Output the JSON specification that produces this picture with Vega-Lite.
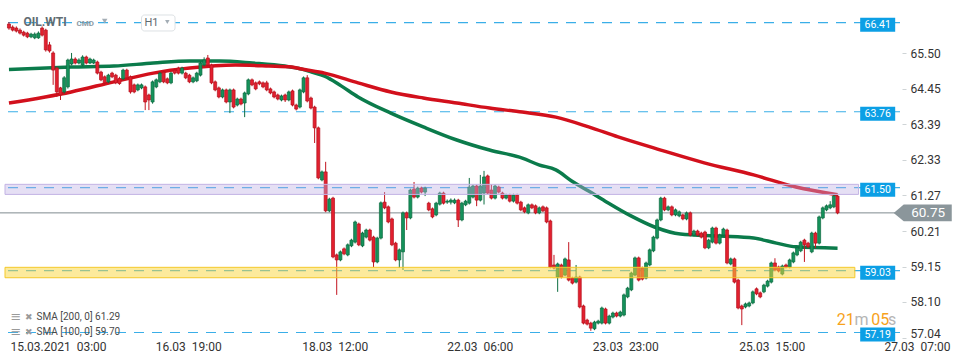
{
"$schema": "https://vega.github.io/schema/vega-lite/v6.json",
"width": 900, "height": 340,
"autosize": {"type": "none"},
"padding": {"left": 0, "top": 0, "right": 70, "bottom": 24},
"background": "white",
"config": {"view": {"stroke": null}, "font": "Roboto"},
"datasets": {
"levels": [{"p":66.41},{"p":63.76},{"p":61.50},{"p":59.03},{"p":57.19}],
"sma": [
{"s":"100","i":0,"v":65.02},{"s":"100","i":16.9,"v":65.09},{"s":"100","i":28.5,"v":65.12},{"s":"100","i":39.2,"v":65.21},{"s":"100","i":49.1,"v":65.27},{"s":"100","i":57.2,"v":65.27},{"s":"100","i":66.1,"v":65.21},{"s":"100","i":74.9,"v":65.12},{"s":"100","i":79.5,"v":65.03},{"s":"100","i":82.2,"v":64.94},{"s":"100","i":85.7,"v":64.82},{"s":"100","i":90.2,"v":64.53},{"s":"100","i":94.8,"v":64.20},{"s":"100","i":103.7,"v":63.72},{"s":"100","i":112.5,"v":63.31},{"s":"100","i":121.6,"v":62.92},{"s":"100","i":130.5,"v":62.62},{"s":"100","i":139.4,"v":62.38},{"s":"100","i":143.9,"v":62.18},{"s":"100","i":148.5,"v":62.03},{"s":"100","i":152.8,"v":61.70},{"s":"100","i":157.4,"v":61.40},{"s":"100","i":161.9,"v":61.10},{"s":"100","i":168.9,"v":60.66},{"s":"100","i":175.3,"v":60.33},{"s":"100","i":182.3,"v":60.12},{"s":"100","i":193.1,"v":60.06},{"s":"100","i":202.2,"v":60.00},{"s":"100","i":208.4,"v":59.85},{"s":"100","i":213.7,"v":59.74},{"s":"100","i":225,"v":59.70},
{"s":"200","i":0,"v":64.02},{"s":"200","i":16.9,"v":64.35},{"s":"200","i":28.5,"v":64.65},{"s":"200","i":39.2,"v":64.91},{"s":"200","i":49.1,"v":65.06},{"s":"200","i":61.5,"v":65.15},{"s":"200","i":70.6,"v":65.12},{"s":"200","i":76.8,"v":65.09},{"s":"200","i":79.5,"v":65.03},{"s":"200","i":85.7,"v":64.91},{"s":"200","i":94.8,"v":64.62},{"s":"200","i":103.7,"v":64.35},{"s":"200","i":112.5,"v":64.17},{"s":"200","i":121.6,"v":64.02},{"s":"200","i":130.5,"v":63.87},{"s":"200","i":139.4,"v":63.75},{"s":"200","i":148.5,"v":63.60},{"s":"200","i":157.4,"v":63.31},{"s":"200","i":165.4,"v":63.01},{"s":"200","i":177,"v":62.62},{"s":"200","i":188.8,"v":62.24},{"s":"200","i":202.2,"v":61.88},{"s":"200","i":213.7,"v":61.52},{"s":"200","i":225,"v":61.29}
],
"candles": [
{"i":0,"o":66.37,"h":66.43,"l":66.20,"c":66.25},{"i":1,"o":66.28,"h":66.33,"l":66.15,"c":66.19},{"i":2,"o":66.25,"h":66.30,"l":66.12,"c":66.16},{"i":3,"o":66.19,"h":66.24,"l":66.06,"c":66.10},{"i":4,"o":66.13,"h":66.17,"l":66.00,"c":66.04},{"i":5,"o":66.10,"h":66.14,"l":65.95,"c":65.99},{"i":6,"o":65.99,"h":66.11,"l":65.95,"c":66.07},{"i":7,"o":65.96,"h":66.12,"l":65.92,"c":66.07},{"i":8,"o":65.96,"h":66.15,"l":65.93,"c":66.10},{"i":9,"o":66.25,"h":66.30,"l":66.00,"c":66.04},
{"i":10,"o":66.19,"h":66.23,"l":65.55,"c":65.60},{"i":11,"o":65.75,"h":65.84,"l":65.52,"c":65.57},{"i":12,"o":65.51,"h":65.56,"l":64.56,"c":65.00},{"i":13,"o":65.06,"h":65.10,"l":64.20,"c":64.35},{"i":14,"o":64.47,"h":64.50,"l":64.11,"c":64.26},{"i":15,"o":64.35,"h":64.82,"l":64.30,"c":64.77},{"i":16,"o":64.50,"h":65.34,"l":64.45,"c":65.30},{"i":17,"o":65.18,"h":65.51,"l":65.14,"c":65.33},{"i":18,"o":65.33,"h":65.38,"l":65.17,"c":65.21},{"i":19,"o":65.21,"h":65.35,"l":65.17,"c":65.30},
{"i":20,"o":65.15,"h":65.44,"l":65.11,"c":65.39},{"i":21,"o":65.39,"h":65.43,"l":65.17,"c":65.21},{"i":22,"o":65.21,"h":65.37,"l":65.18,"c":65.33},{"i":23,"o":65.21,"h":65.34,"l":65.18,"c":65.30},{"i":24,"o":65.24,"h":65.28,"l":64.87,"c":64.91},{"i":25,"o":64.94,"h":64.98,"l":64.67,"c":64.71},{"i":26,"o":64.80,"h":64.84,"l":64.58,"c":64.62},{"i":27,"o":64.65,"h":64.89,"l":64.61,"c":64.85},{"i":28,"o":64.91,"h":64.95,"l":64.76,"c":64.80},{"i":29,"o":64.85,"h":64.89,"l":64.58,"c":64.62},
{"i":30,"o":64.75,"h":64.80,"l":64.56,"c":64.60},{"i":31,"o":64.74,"h":65.04,"l":64.70,"c":65.00},{"i":32,"o":65.00,"h":65.04,"l":64.73,"c":64.77},{"i":33,"o":64.80,"h":64.84,"l":64.30,"c":64.35},{"i":34,"o":64.56,"h":64.60,"l":64.31,"c":64.35},{"i":35,"o":64.41,"h":64.60,"l":64.37,"c":64.56},{"i":36,"o":64.47,"h":64.60,"l":64.43,"c":64.56},{"i":37,"o":64.50,"h":64.54,"l":63.81,"c":64.05},{"i":38,"o":64.26,"h":64.30,"l":63.81,"c":64.11},{"i":39,"o":64.05,"h":64.69,"l":64.00,"c":64.65},
{"i":40,"o":64.50,"h":64.75,"l":64.46,"c":64.71},{"i":41,"o":64.65,"h":64.95,"l":64.61,"c":64.91},{"i":42,"o":64.94,"h":64.98,"l":64.61,"c":64.65},{"i":43,"o":64.74,"h":64.78,"l":64.58,"c":64.62},{"i":44,"o":64.62,"h":64.95,"l":64.58,"c":64.91},{"i":45,"o":65.00,"h":65.04,"l":64.87,"c":64.91},{"i":46,"o":65.06,"h":65.10,"l":64.87,"c":64.91},{"i":47,"o":64.91,"h":65.10,"l":64.87,"c":65.06},{"i":48,"o":64.91,"h":64.95,"l":64.73,"c":64.77},{"i":49,"o":64.85,"h":64.89,"l":64.61,"c":64.65},
{"i":50,"o":64.65,"h":64.81,"l":64.61,"c":64.77},{"i":51,"o":64.68,"h":64.95,"l":64.64,"c":64.91},{"i":52,"o":64.85,"h":65.25,"l":64.81,"c":65.21},{"i":53,"o":65.15,"h":65.38,"l":65.11,"c":65.30},{"i":54,"o":65.36,"h":65.45,"l":65.11,"c":65.15},{"i":55,"o":65.15,"h":65.19,"l":64.58,"c":64.62},{"i":56,"o":64.65,"h":64.69,"l":64.37,"c":64.41},{"i":57,"o":64.47,"h":64.51,"l":64.16,"c":64.20},{"i":58,"o":64.20,"h":64.45,"l":64.16,"c":64.41},{"i":59,"o":64.41,"h":64.45,"l":64.01,"c":64.05},
{"i":60,"o":64.05,"h":64.45,"l":63.72,"c":64.41},{"i":61,"o":64.41,"h":64.45,"l":63.86,"c":63.90},{"i":62,"o":63.96,"h":64.18,"l":63.92,"c":64.14},{"i":63,"o":64.14,"h":64.18,"l":63.95,"c":63.99},{"i":64,"o":64.02,"h":64.36,"l":63.60,"c":64.32},{"i":65,"o":64.29,"h":64.75,"l":64.25,"c":64.71},{"i":66,"o":64.71,"h":64.75,"l":64.52,"c":64.56},{"i":67,"o":64.62,"h":64.66,"l":64.40,"c":64.44},{"i":68,"o":64.65,"h":64.69,"l":64.55,"c":64.59},{"i":69,"o":64.62,"h":64.66,"l":64.46,"c":64.50},
{"i":70,"o":64.62,"h":64.68,"l":64.37,"c":64.41},{"i":71,"o":64.44,"h":64.48,"l":64.28,"c":64.32},{"i":72,"o":64.35,"h":64.39,"l":64.16,"c":64.20},{"i":73,"o":64.26,"h":64.30,"l":64.10,"c":64.14},{"i":74,"o":64.11,"h":64.27,"l":64.07,"c":64.23},{"i":75,"o":64.26,"h":64.30,"l":64.05,"c":64.11},{"i":76,"o":64.11,"h":64.39,"l":64.07,"c":64.35},{"i":77,"o":64.38,"h":64.42,"l":63.92,"c":63.96},{"i":78,"o":63.96,"h":64.00,"l":63.80,"c":63.84},{"i":79,"o":63.90,"h":64.45,"l":63.86,"c":64.41},
{"i":80,"o":64.35,"h":64.81,"l":64.31,"c":64.77},{"i":81,"o":64.77,"h":64.85,"l":64.04,"c":64.08},{"i":82,"o":64.17,"h":64.21,"l":63.83,"c":63.87},{"i":83,"o":63.90,"h":63.94,"l":62.83,"c":63.28},{"i":84,"o":63.28,"h":63.32,"l":61.75,"c":61.79},{"i":85,"o":61.73,"h":62.01,"l":61.69,"c":61.97},{"i":86,"o":61.97,"h":62.27,"l":60.77,"c":60.81},{"i":87,"o":60.81,"h":61.20,"l":60.77,"c":61.16},{"i":88,"o":61.19,"h":61.23,"l":59.40,"c":59.44},{"i":89,"o":59.50,"h":59.54,"l":58.31,"c":59.35},
{"i":90,"o":59.35,"h":59.63,"l":59.31,"c":59.59},{"i":91,"o":59.68,"h":59.72,"l":59.49,"c":59.53},{"i":92,"o":59.50,"h":59.84,"l":59.46,"c":59.80},{"i":93,"o":59.77,"h":59.98,"l":59.73,"c":59.94},{"i":94,"o":59.88,"h":60.52,"l":59.84,"c":60.48},{"i":95,"o":60.42,"h":60.46,"l":59.76,"c":59.80},{"i":96,"o":59.77,"h":60.19,"l":59.73,"c":60.15},{"i":97,"o":60.03,"h":60.28,"l":59.99,"c":60.24},{"i":98,"o":60.24,"h":60.28,"l":59.90,"c":59.94},{"i":99,"o":60.03,"h":60.07,"l":59.14,"c":59.29},
{"i":100,"o":59.29,"h":60.04,"l":59.25,"c":60.00},{"i":101,"o":60.00,"h":61.09,"l":59.96,"c":61.05},{"i":102,"o":61.07,"h":61.37,"l":60.86,"c":60.90},{"i":103,"o":60.93,"h":60.97,"l":60.44,"c":60.48},{"i":104,"o":60.57,"h":60.61,"l":59.76,"c":59.80},{"i":105,"o":59.85,"h":59.89,"l":59.31,"c":59.35},{"i":106,"o":59.35,"h":59.69,"l":59.11,"c":59.65},{"i":107,"o":59.59,"h":60.79,"l":59.05,"c":60.75},{"i":108,"o":60.75,"h":60.79,"l":60.24,"c":60.60},{"i":109,"o":60.60,"h":61.47,"l":60.56,"c":61.43},
{"i":110,"o":61.46,"h":61.67,"l":61.18,"c":61.22},{"i":111,"o":61.22,"h":61.53,"l":61.18,"c":61.49},{"i":112,"o":61.49,"h":61.53,"l":61.33,"c":61.37},{"i":113,"o":61.37,"h":61.53,"l":61.25,"c":61.49},{"i":114,"o":61.04,"h":61.08,"l":60.80,"c":60.84},{"i":115,"o":60.87,"h":60.91,"l":60.59,"c":60.63},{"i":116,"o":60.69,"h":61.08,"l":60.65,"c":61.04},{"i":117,"o":61.01,"h":61.38,"l":60.97,"c":61.34},{"i":118,"o":61.34,"h":61.38,"l":61.00,"c":61.04},{"i":119,"o":61.07,"h":61.15,"l":61.02,"c":61.10},
{"i":120,"o":61.07,"h":61.18,"l":61.00,"c":61.13},{"i":121,"o":61.05,"h":61.18,"l":61.01,"c":61.13},{"i":122,"o":61.13,"h":61.17,"l":60.33,"c":60.54},{"i":123,"o":60.54,"h":61.08,"l":60.50,"c":61.04},{"i":124,"o":60.99,"h":61.14,"l":60.95,"c":61.10},{"i":125,"o":61.04,"h":61.79,"l":61.00,"c":61.52},{"i":126,"o":61.22,"h":61.59,"l":61.18,"c":61.55},{"i":127,"o":61.55,"h":61.59,"l":60.95,"c":61.13},{"i":128,"o":61.13,"h":61.88,"l":61.09,"c":61.55},{"i":129,"o":61.34,"h":62.00,"l":61.00,"c":61.82},
{"i":130,"o":61.85,"h":61.89,"l":61.30,"c":61.34},{"i":131,"o":61.43,"h":61.60,"l":61.15,"c":61.19},{"i":132,"o":61.19,"h":61.59,"l":61.15,"c":61.55},{"i":133,"o":61.52,"h":61.56,"l":61.33,"c":61.37},{"i":134,"o":61.34,"h":61.38,"l":61.15,"c":61.19},{"i":135,"o":61.19,"h":61.32,"l":61.15,"c":61.28},{"i":136,"o":61.28,"h":61.32,"l":61.06,"c":61.10},{"i":137,"o":61.10,"h":61.32,"l":61.06,"c":61.28},{"i":138,"o":61.28,"h":61.32,"l":61.00,"c":61.04},{"i":139,"o":61.07,"h":61.11,"l":60.80,"c":60.84},
{"i":140,"o":60.90,"h":60.94,"l":60.74,"c":60.78},{"i":141,"o":60.75,"h":61.03,"l":60.71,"c":60.99},{"i":142,"o":60.99,"h":61.03,"l":60.86,"c":60.90},{"i":143,"o":60.96,"h":61.00,"l":60.71,"c":60.75},{"i":144,"o":60.75,"h":60.94,"l":60.71,"c":60.90},{"i":145,"o":60.93,"h":60.97,"l":60.77,"c":60.81},{"i":146,"o":60.90,"h":60.94,"l":60.44,"c":60.48},{"i":147,"o":60.51,"h":60.55,"l":59.10,"c":59.14},{"i":148,"o":59.20,"h":59.50,"l":59.07,"c":59.11},{"i":149,"o":58.84,"h":59.27,"l":58.40,"c":59.23},
{"i":150,"o":59.20,"h":59.24,"l":58.80,"c":58.84},{"i":151,"o":58.90,"h":59.42,"l":58.86,"c":59.38},{"i":152,"o":59.35,"h":59.88,"l":58.71,"c":58.75},{"i":153,"o":58.81,"h":58.85,"l":58.62,"c":58.66},{"i":154,"o":58.69,"h":59.20,"l":58.65,"c":58.84},{"i":155,"o":58.84,"h":58.88,"l":57.91,"c":57.95},{"i":156,"o":57.98,"h":58.02,"l":57.43,"c":57.47},{"i":157,"o":57.56,"h":57.60,"l":57.40,"c":57.44},{"i":158,"o":57.47,"h":57.51,"l":57.24,"c":57.32},{"i":159,"o":57.30,"h":57.54,"l":57.26,"c":57.50},
{"i":160,"o":57.47,"h":57.57,"l":57.43,"c":57.53},{"i":161,"o":57.47,"h":57.96,"l":57.43,"c":57.92},{"i":162,"o":57.89,"h":57.93,"l":57.43,"c":57.47},{"i":163,"o":57.47,"h":57.72,"l":57.43,"c":57.68},{"i":164,"o":57.65,"h":57.81,"l":57.61,"c":57.77},{"i":165,"o":57.77,"h":57.81,"l":57.64,"c":57.68},{"i":166,"o":57.68,"h":57.84,"l":57.64,"c":57.80},{"i":167,"o":57.71,"h":58.35,"l":57.67,"c":58.31},{"i":168,"o":58.25,"h":58.55,"l":58.21,"c":58.51},{"i":169,"o":58.46,"h":59.00,"l":58.42,"c":58.96},
{"i":170,"o":58.90,"h":59.45,"l":58.86,"c":59.41},{"i":171,"o":59.41,"h":59.45,"l":58.71,"c":58.75},{"i":172,"o":59.11,"h":59.15,"l":58.74,"c":58.78},{"i":173,"o":58.81,"h":59.30,"l":58.77,"c":59.26},{"i":174,"o":59.20,"h":59.69,"l":59.16,"c":59.65},{"i":175,"o":59.62,"h":60.07,"l":59.58,"c":60.03},{"i":176,"o":60.00,"h":60.58,"l":59.96,"c":60.54},{"i":177,"o":60.54,"h":61.23,"l":60.50,"c":61.19},{"i":178,"o":61.19,"h":61.23,"l":60.80,"c":60.84},{"i":179,"o":60.84,"h":60.97,"l":60.80,"c":60.93},
{"i":180,"o":60.93,"h":60.97,"l":60.65,"c":60.69},{"i":181,"o":60.69,"h":60.88,"l":60.65,"c":60.84},{"i":182,"o":60.66,"h":60.82,"l":60.62,"c":60.78},{"i":183,"o":60.69,"h":60.73,"l":60.53,"c":60.57},{"i":184,"o":60.57,"h":60.79,"l":60.53,"c":60.75},{"i":185,"o":60.75,"h":60.79,"l":60.05,"c":60.09},{"i":186,"o":60.09,"h":60.25,"l":60.05,"c":60.21},{"i":187,"o":60.21,"h":60.25,"l":60.05,"c":60.09},{"i":188,"o":60.15,"h":60.19,"l":59.99,"c":60.03},{"i":189,"o":60.18,"h":60.22,"l":59.67,"c":59.71},
{"i":190,"o":59.71,"h":59.98,"l":59.67,"c":59.94},{"i":191,"o":59.88,"h":60.34,"l":59.84,"c":60.30},{"i":192,"o":60.30,"h":60.34,"l":59.81,"c":59.85},{"i":193,"o":59.85,"h":60.13,"l":59.81,"c":60.09},{"i":194,"o":60.09,"h":60.31,"l":60.05,"c":60.27},{"i":195,"o":60.24,"h":60.28,"l":59.22,"c":59.26},{"i":196,"o":59.23,"h":59.42,"l":59.19,"c":59.38},{"i":197,"o":59.38,"h":59.42,"l":58.65,"c":58.69},{"i":198,"o":58.75,"h":58.79,"l":57.88,"c":57.92},{"i":199,"o":57.98,"h":58.02,"l":57.41,"c":57.89},
{"i":200,"o":57.95,"h":58.08,"l":57.91,"c":58.04},{"i":201,"o":57.98,"h":58.11,"l":57.94,"c":58.07},{"i":202,"o":58.07,"h":58.44,"l":58.03,"c":58.40},{"i":203,"o":58.49,"h":58.53,"l":58.30,"c":58.34},{"i":204,"o":58.37,"h":58.41,"l":58.21,"c":58.25},{"i":205,"o":58.40,"h":58.64,"l":58.36,"c":58.60},{"i":206,"o":58.57,"h":58.76,"l":58.53,"c":58.72},{"i":207,"o":58.69,"h":59.30,"l":58.65,"c":59.26},{"i":208,"o":59.26,"h":59.40,"l":59.01,"c":59.05},{"i":209,"o":59.14,"h":59.18,"l":58.98,"c":59.02},
{"i":210,"o":58.93,"h":59.21,"l":58.89,"c":59.17},{"i":211,"o":59.20,"h":59.24,"l":59.10,"c":59.14},{"i":212,"o":59.14,"h":59.39,"l":59.10,"c":59.35},{"i":213,"o":59.29,"h":59.60,"l":59.25,"c":59.56},{"i":214,"o":59.50,"h":59.75,"l":59.46,"c":59.71},{"i":215,"o":59.62,"h":59.92,"l":59.58,"c":59.88},{"i":216,"o":59.94,"h":59.98,"l":59.29,"c":59.80},{"i":217,"o":59.85,"h":59.89,"l":59.70,"c":59.74},{"i":218,"o":59.59,"h":60.19,"l":59.55,"c":60.15},{"i":219,"o":60.15,"h":60.19,"l":59.70,"c":59.85},
{"i":220,"o":59.85,"h":60.67,"l":59.81,"c":60.63},{"i":221,"o":60.60,"h":60.94,"l":60.56,"c":60.90},{"i":222,"o":60.84,"h":61.00,"l":60.80,"c":60.96},{"i":223,"o":60.90,"h":61.10,"l":60.86,"c":60.99},{"i":224,"o":60.93,"h":61.29,"l":60.89,"c":61.25},{"i":225,"o":61.25,"h":61.29,"l":60.71,"c":60.75}
]
},
"layer": [
{"data": {"name": "levels"},
 "mark": {"type": "rule", "stroke": "#3aaee8", "strokeDash": [10, 8], "strokeWidth": 1.2},
 "encoding": {"y": {"field": "p", "type": "quantitative",
   "scale": {"domain": [56.967, 67.086], "nice": false, "zero": false},
   "axis": {"title": null, "orient": "right", "values": [57.04, 58.10, 59.15, 60.21, 61.27, 62.33, 63.39, 64.45, 65.50], "format": ".2f", "grid": false, "domain": false, "tickSize": 4, "tickColor": "#cfd4d6", "offset": 2, "labelPadding": 4, "labelFontSize": 12, "labelColor": "#333333", "labelFont": "Roboto", "labelBaseline": {"condition": {"test": "datum.value < 57.5", "value": "alphabetic"}, "value": "middle"}}}}},
{"data": {"values": [{}]},
 "mark": {"type": "rule", "stroke": "#7f8a8f", "strokeWidth": 1},
 "encoding": {"y": {"datum": 60.75, "type": "quantitative"}}},
{"data": {"name": "sma"},
 "mark": {"type": "line", "strokeWidth": 3.5, "interpolate": "monotone"},
 "encoding": {
   "x": {"field": "i", "type": "quantitative"},
   "y": {"field": "v", "type": "quantitative"},
   "color": {"field": "s", "type": "nominal", "scale": {"domain": ["100", "200"], "range": ["#0b7b4b", "#d2101c"]}, "legend": null}}},
{"data": {"name": "candles"},
 "mark": {"type": "rule", "strokeWidth": 1},
 "encoding": {
   "x": {"field": "i", "type": "quantitative",
     "scale": {"domain": [-1.074, 240.6], "nice": false, "zero": false},
     "axis": {"title": null, "values": [0.27, 39.7, 79.5, 118.9, 158.4, 198.2, 237.6],
       "labelExpr": "datum.value < 20 ? '15.03.2021\u00a0\u00a003:00' : datum.value < 60 ? '16.03\u00a0\u00a019:00' : datum.value < 100 ? '18.03\u00a0\u00a012:00' : datum.value < 140 ? '22.03\u00a0\u00a006:00' : datum.value < 180 ? '23.03\u00a0\u00a023:00' : datum.value < 220 ? '25.03\u00a0\u00a015:00' : '27.03\u00a0\u00a007:00'",
       "labelAlign": "left", "labelBaseline": "top", "ticks": false, "domain": false, "grid": false, "labelFontSize": 12, "labelColor": "#333333", "labelPadding": 1, "labelFont": "Roboto", "labelOverlap": false, "labelFlush": false, "labelBound": false}},
   "y": {"field": "l", "type": "quantitative"},
   "y2": {"field": "h"},
   "stroke": {"condition": {"test": "datum.c >= datum.o", "value": "#0d6e42"}, "value": "#c2141f"}}},
{"data": {"name": "candles"},
 "mark": {"type": "bar", "width": 3, "strokeWidth": 0.7},
 "encoding": {
   "x": {"field": "i", "type": "quantitative"},
   "y": {"field": "o", "type": "quantitative"},
   "y2": {"field": "c"},
   "fill": {"condition": {"test": "datum.c >= datum.o", "value": "#15925b"}, "value": "#e3202f"},
   "stroke": {"condition": {"test": "datum.c >= datum.o", "value": "#0b6a3f"}, "value": "#b3111c"}}},
{"data": {"values": [{}]},
 "mark": {"type": "rect", "fill": "#bfb0e3", "fillOpacity": 0.4, "stroke": "#c3b4e4", "strokeWidth": 1},
 "encoding": {"x": {"datum": -1.074}, "x2": {"datum": 230.7}, "y": {"datum": 61.30}, "y2": {"datum": 61.60}}},
{"data": {"values": [{}]},
 "mark": {"type": "rect", "fill": "#f9d63a", "fillOpacity": 0.5, "stroke": "#f4c92b", "strokeWidth": 1},
 "encoding": {"x": {"datum": -1.074}, "x2": {"datum": 229.7}, "y": {"datum": 58.82}, "y2": {"datum": 59.13}}},
{"data": {"name": "levels"},
 "mark": {"type": "point", "shape": "M-2.5,-1H2.5V1H-2.5Z", "size": 196, "filled": true, "fill": "#0c9fe5", "opacity": 1, "strokeWidth": 0, "yOffset": 2},
 "encoding": {"x": {"datum": 235.9}, "y": {"field": "p", "type": "quantitative"}}},
{"data": {"name": "levels"},
 "mark": {"type": "text", "fill": "white", "fontSize": 10.5, "yOffset": 2, "align": "center", "baseline": "middle", "font": "Roboto"},
 "encoding": {"x": {"datum": 235.9}, "y": {"field": "p", "type": "quantitative"}, "text": {"field": "p", "type": "quantitative", "format": ".2f"}}},
{"data": {"values": [{}]},
 "mark": {"type": "point", "shape": "M-3.75,0L-2.5,-1.06H3.5V1.06H-2.5Z", "size": 256, "filled": true, "fill": "#8b969b", "opacity": 1, "strokeWidth": 0},
 "encoding": {"x": {"datum": 248.4}, "y": {"datum": 60.75}}},
{"data": {"values": [{}]},
 "mark": {"type": "text", "fill": "white", "fontSize": 13.5, "align": "center", "baseline": "middle", "font": "Roboto", "text": "60.75"},
 "encoding": {"x": {"datum": 249.6}, "y": {"datum": 60.75}}},
{"data": {"values": [{}]},
 "mark": {"type": "text", "fill": "#616c72", "fontSize": 12, "fontWeight": "bold", "align": "center", "baseline": "middle", "font": "Roboto", "text": "OIL.WTI"},
 "encoding": {"x": {"datum": 9.8}, "y": {"datum": 66.42}}},
{"data": {"values": [{}]},
 "mark": {"type": "text", "fill": "#8d9ba5", "fontSize": 8, "fontWeight": "bold", "align": "center", "baseline": "middle", "font": "Roboto", "text": "CMD"},
 "encoding": {"x": {"datum": 20.7}, "y": {"datum": 66.38}}},
{"data": {"values": [{}]},
 "mark": {"type": "point", "shape": "triangle-down", "size": 30, "filled": true, "fill": "#a3adb5", "opacity": 1, "strokeWidth": 0},
 "encoding": {"x": {"datum": 26.0}, "y": {"datum": 66.46}}},
{"data": {"values": [{}]},
 "mark": {"type": "rect", "cornerRadius": 3, "fill": "white", "stroke": "#dde1e4", "strokeWidth": 1},
 "encoding": {"x": {"datum": 36.0}, "x2": {"datum": 45.1}, "y": {"datum": 66.64}, "y2": {"datum": 66.164}}},
{"data": {"values": [{}]},
 "mark": {"type": "text", "fill": "#5f6a70", "fontSize": 11, "align": "center", "baseline": "middle", "font": "Roboto", "text": "H1"},
 "encoding": {"x": {"datum": 38.7}, "y": {"datum": 66.40}}},
{"data": {"values": [{}]},
 "mark": {"type": "point", "shape": "triangle-down", "size": 20, "filled": true, "fill": "#a3adb5", "opacity": 1, "strokeWidth": 0},
 "encoding": {"x": {"datum": 43.0}, "y": {"datum": 66.43}}},
{"data": {"values": [{}]},
 "mark": {"type": "text", "fill": "#4a4a4a", "fontSize": 10, "align": "left", "baseline": "middle", "font": "Roboto", "text": "SMA [200, 0] 61.29"},
 "encoding": {"x": {"datum": 7.5}, "y": {"datum": 57.65}}},
{"data": {"values": [{}]},
 "mark": {"type": "text", "fill": "#4a4a4a", "fontSize": 10, "align": "left", "baseline": "middle", "font": "Roboto", "text": "SMA [100, 0] 59.70"},
 "encoding": {"x": {"datum": 7.5}, "y": {"datum": 57.21}}},
{"data": {"values": [{}]},
 "mark": {"type": "text", "fill": "#9a9a9a", "fontSize": 13, "align": "center", "baseline": "middle", "font": "DejaVu Sans", "text": "≡"},
 "encoding": {"x": {"datum": 1.9}, "y": {"datum": 57.65}}},
{"data": {"values": [{}]},
 "mark": {"type": "text", "fill": "#9a9a9a", "fontSize": 13, "align": "center", "baseline": "middle", "font": "DejaVu Sans", "text": "≡"},
 "encoding": {"x": {"datum": 1.9}, "y": {"datum": 57.21}}},
{"data": {"values": [{}]},
 "mark": {"type": "text", "fill": "#9a9a9a", "fontSize": 9, "align": "center", "baseline": "middle", "font": "DejaVu Sans", "text": "✖"},
 "encoding": {"x": {"datum": 5.4}, "y": {"datum": 57.65}}},
{"data": {"values": [{}]},
 "mark": {"type": "text", "fill": "#9a9a9a", "fontSize": 9, "align": "center", "baseline": "middle", "font": "DejaVu Sans", "text": "✖"},
 "encoding": {"x": {"datum": 5.4}, "y": {"datum": 57.21}}},
{"data": {"values": [{}]},
 "mark": {"type": "text", "fill": "#f7a21b", "fontSize": 16, "align": "center", "baseline": "middle", "font": "Roboto", "text": "21"},
 "encoding": {"x": {"datum": 227.2}, "y": {"datum": 57.56}}},
{"data": {"values": [{}]},
 "mark": {"type": "text", "fill": "#b5b5b5", "fontSize": 16, "align": "center", "baseline": "middle", "font": "Roboto", "text": "m"},
 "encoding": {"x": {"datum": 231.5}, "y": {"datum": 57.56}}},
{"data": {"values": [{}]},
 "mark": {"type": "text", "fill": "#f7a21b", "fontSize": 16, "align": "center", "baseline": "middle", "font": "Roboto", "text": "05"},
 "encoding": {"x": {"datum": 236.6}, "y": {"datum": 57.56}}},
{"data": {"values": [{}]},
 "mark": {"type": "text", "fill": "#b5b5b5", "fontSize": 16, "align": "center", "baseline": "middle", "font": "Roboto", "text": "s"},
 "encoding": {"x": {"datum": 239.8}, "y": {"datum": 57.56}}}
]
}
